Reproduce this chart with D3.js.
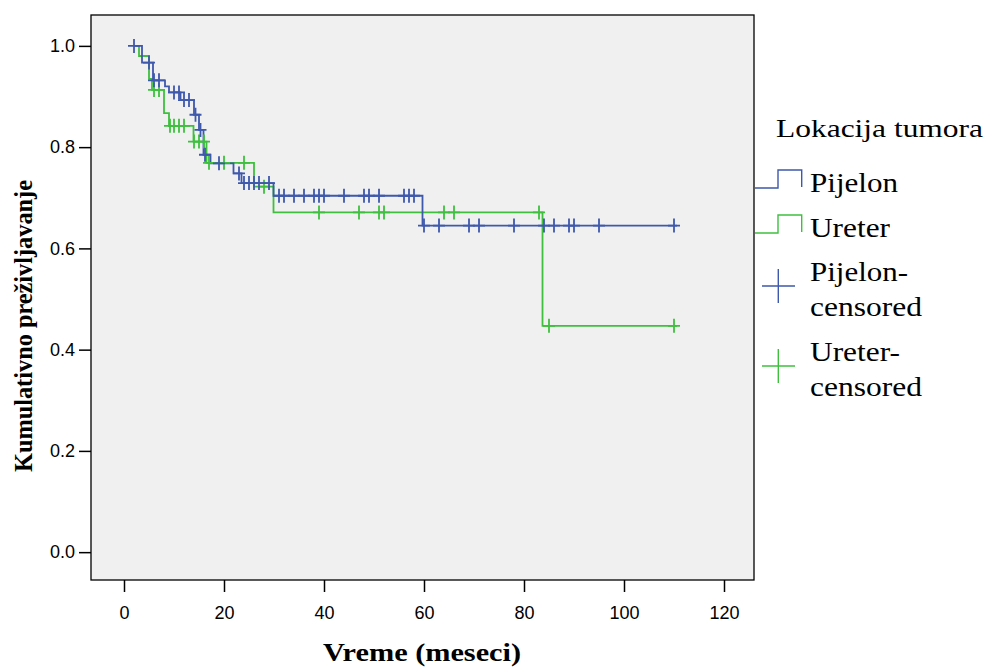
<!DOCTYPE html>
<html>
<head>
<meta charset="utf-8">
<script src="https://cdn.jsdelivr.net/npm/d3@7"></script>
<style>
  body { margin: 0; background: #fff; }
  svg { display: block; }
</style>
</head>
<body>
<div id="chart"></div>
<script>
// Kaplan-Meier steps: time (months) and survival after the step
const pijelonTimes = [2, 3.6, 5.8, 8.2, 9, 11.3, 14, 15, 15.9, 17.3, 21.9, 23.5, 29.9, 59.7, 110.6];
const pijelonSurv  = [1.0, 0.967, 0.932, 0.92, 0.908, 0.893, 0.864, 0.834, 0.785, 0.768, 0.748, 0.729, 0.704, 0.645, 0.645];
const ureterTimes  = [2.5, 3, 5, 5.6, 8, 9, 13.9, 16.5, 26, 29.9, 83.7, 110.6];
const ureterSurv   = [1.0, 0.98, 0.935, 0.913, 0.867, 0.842, 0.811, 0.769, 0.722, 0.671, 0.447, 0.447];

// censored observations (months)
const pijelonCensored = [2, 5, 6, 7, 10, 11, 12, 13, 14.3, 15.3, 16.2, 19, 23, 24, 25, 26, 27, 29,
  31, 32, 34, 36, 38, 39, 40, 44, 48, 49, 51, 56, 57, 58,
  60, 63, 69, 71, 78, 84, 86, 89, 90, 95, 110];
const ureterCensored = [6, 7, 9.2, 10, 11, 12, 14, 15, 16, 17, 20, 24, 28,
  39, 47, 51, 52, 64, 66, 83, 85, 110];

const xTicks = [0, 20, 40, 60, 80, 100, 120];
const yTicks = [0.0, 0.2, 0.4, 0.6, 0.8, 1.0];

const blue = '#3e58ac';
const green = '#3ec03e';

const width = 987, height = 669;
const plot = { left: 91, right: 754, top: 15, bottom: 580 };
const serif = '"Times New Roman", "Liberation Serif", Tinos, serif';
const sans = 'Arial, "Liberation Sans", sans-serif';

const svg = d3.select('#chart').append('svg')
    .attr('width', width)
    .attr('height', height);

const x = d3.scaleLinear().domain([-6.6, 126]).range([plot.left, plot.right]);
const y = d3.scaleLinear().domain([-0.055, 1.061]).range([plot.bottom, plot.top]);

svg.append('rect')
    .attr('x', plot.left).attr('y', plot.top)
    .attr('width', plot.right - plot.left)
    .attr('height', plot.bottom - plot.top)
    .attr('fill', '#f0f0f0')
    .attr('stroke', '#000')
    .attr('stroke-width', 1.3);

// axes
const xAxis = svg.append('g')
    .attr('transform', `translate(0,${plot.bottom})`)
    .call(d3.axisBottom(x).tickValues(xTicks).tickSize(12).tickPadding(14).tickFormat(d3.format('d')));
const yAxis = svg.append('g')
    .attr('transform', `translate(${plot.left},0)`)
    .call(d3.axisLeft(y).tickValues(yTicks).tickSize(12).tickPadding(4).tickFormat(d3.format('.1f')));

[xAxis, yAxis].forEach(g => {
    g.select('.domain').remove();
    g.selectAll('line').attr('stroke', '#000').attr('stroke-width', 1.5);
    g.selectAll('text')
        .attr('fill', '#000')
        .style('font-family', sans)
        .style('font-size', '18px');
});

// curves
function series(times, surv) {
    return times.map((t, i) => ({ t: t, s: surv[i] }));
}
function survAt(times, surv, t) {
    const i = d3.bisectRight(times, t) - 1;
    return surv[Math.max(0, i)];
}

const line = d3.line()
    .x(d => x(d.t))
    .y(d => y(d.s))
    .curve(d3.curveStepAfter);

const groups = [
    { times: pijelonTimes, surv: pijelonSurv, cens: pijelonCensored, color: blue },
    { times: ureterTimes, surv: ureterSurv, cens: ureterCensored, color: green }
];

// draw green first, blue on top
groups.slice().reverse().forEach(g => {
    svg.append('path')
        .datum(series(g.times, g.surv))
        .attr('fill', 'none')
        .attr('stroke', g.color)
        .attr('stroke-width', 1.8)
        .attr('d', line);
});

groups.slice().reverse().forEach(g => {
    const marks = svg.append('g');
    g.cens.forEach(t => {
        const cx = x(t), cy = y(survAt(g.times, g.surv, t));
        marks.append('path')
            .attr('d', `M${cx - 6},${cy}H${cx + 6}M${cx},${cy - 7}V${cy + 7}`)
            .attr('stroke', g.color)
            .attr('stroke-width', 1.8)
            .attr('fill', 'none');
    });
});

// axis titles
svg.append('text')
    .attr('x', 422).attr('y', 661)
    .attr('text-anchor', 'middle')
    .attr('textLength', 198).attr('lengthAdjust', 'spacingAndGlyphs')
    .style('font-family', serif)
    .style('font-weight', 'bold').style('font-size', '25px')
    .text('Vreme (meseci)');

svg.append('text')
    .attr('transform', 'translate(32,326) rotate(-90)')
    .attr('text-anchor', 'middle')
    .attr('textLength', 292).attr('lengthAdjust', 'spacingAndGlyphs')
    .style('font-family', serif)
    .style('font-weight', 'bold').style('font-size', '25px')
    .text('Kumulativno preživljavanje');

// legend
const legend = svg.append('g');

function legendText(str, tx, ty, len, size) {
    legend.append('text')
        .attr('x', tx).attr('y', ty)
        .attr('textLength', len).attr('lengthAdjust', 'spacingAndGlyphs')
        .style('font-family', serif).style('font-size', size + 'px')
        .attr('fill', '#000')
        .text(str);
}

legendText('Lokacija tumora', 776, 137, 207, 26);

const legendSteps = [
    { label: 'Pijelon', color: blue, base: 188, len: 88 },
    { label: 'Ureter', color: green, base: 233, len: 80 }
];
legendSteps.forEach(d => {
    legend.append('path')
        .attr('d', `M755,${d.base}H778V${d.base - 18}H801.7V${d.base - 1}`)
        .attr('fill', 'none').attr('stroke', d.color).attr('stroke-width', 1.4);
    legendText(d.label, 810, d.base + 4, d.len, 27);
});

const legendCross = [
    { l1: 'Pijelon-', l2: 'censored', color: blue, cy: 286, len1: 98 },
    { l1: 'Ureter-', l2: 'censored', color: green, cy: 366, len1: 90 }
];
legendCross.forEach(d => {
    legend.append('path')
        .attr('d', `M762,${d.cy}H795M778.3,${d.cy - 17}V${d.cy + 17}`)
        .attr('fill', 'none').attr('stroke', d.color).attr('stroke-width', 1.4);
    legendText(d.l1, 810, d.cy - 5, d.len1, 27);
    legendText(d.l2, 810, d.cy + 30, 112, 27);
});
</script>
</body>
</html>
